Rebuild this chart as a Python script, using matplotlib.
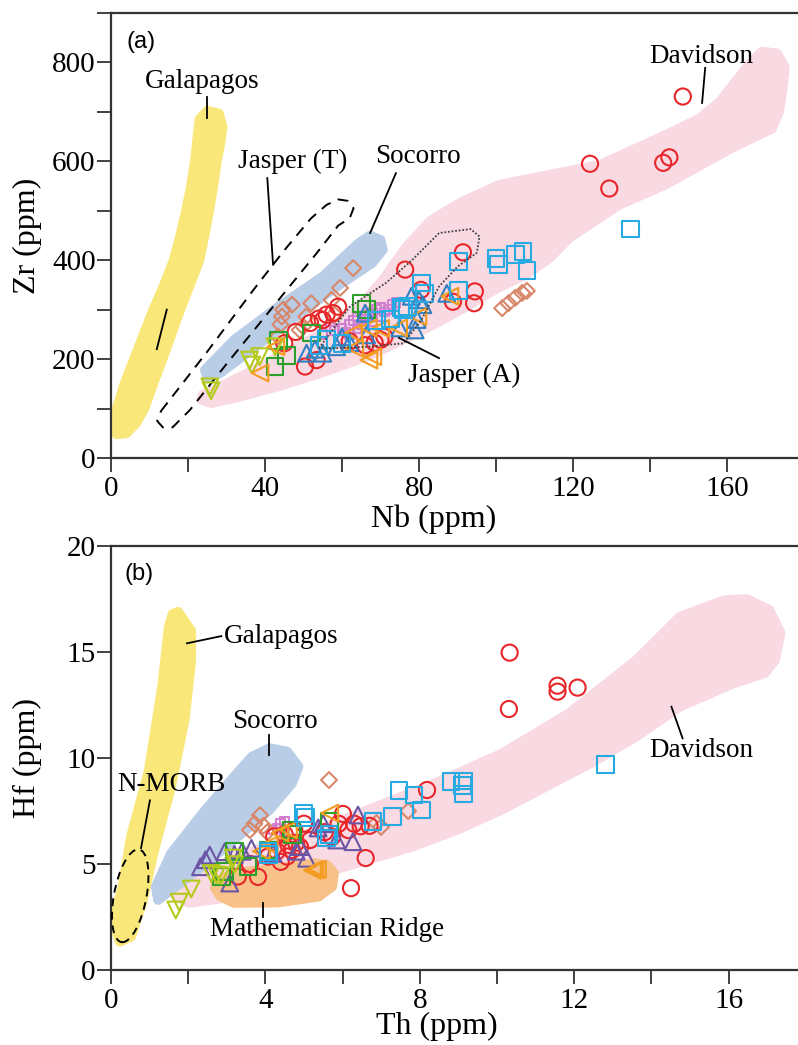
import numpy as np
import matplotlib.pyplot as plt
from matplotlib.patches import Ellipse
from matplotlib.ticker import MultipleLocator

plt.rcParams['font.family'] = ['Liberation Serif', 'DejaVu Serif']

# ---------------- panel (a): Zr vs Nb ----------------
# field outlines (Nb, Zr)
gal_a = [(0.5, 70), (1.5, 100), (3.5, 150), (6, 200), (8.5, 250), (11, 300), (13.8, 350),
         (16.3, 400), (18, 450), (19.5, 500), (20.8, 550), (21.8, 600), (22.5, 650), (23, 685),
         (25, 702), (28, 697), (29, 670), (28.5, 640), (27.5, 600), (26.6, 550), (25.5, 500),
         (24.3, 450), (23, 400), (20.5, 350), (18, 300), (15.7, 250), (13.4, 200), (11, 150),
         (8.7, 100), (6.5, 70), (4, 50), (1.5, 48), (0.3, 58)]
soc_a = [(24.4, 178), (32, 239), (43.5, 306), (55, 367), (64.4, 435), (67.3, 450), (70, 441),
         (70.6, 421), (67.8, 394), (57.4, 340), (45.8, 273), (35.3, 212), (28.4, 172), (25, 162)]
dav_a = [(23.8, 128), (26, 135), (35, 170), (45, 210), (57, 262), (65, 310), (70.6, 360),
         (76.8, 428), (83, 480), (90.6, 516), (101, 553), (114, 573), (127, 593), (144, 653),
         (152.7, 686), (158, 720), (164.7, 786), (169, 822), (173, 818), (175, 790), (174.5, 753),
         (173.5, 700), (171.6, 666), (161, 626), (144, 553), (132, 512), (119, 445), (114, 405),
         (108, 372), (100, 342), (92, 305), (85, 275), (78, 247), (67, 207), (55, 173),
         (43.5, 145), (32, 121), (26, 111), (23.5, 118)]
jasT_a = [(13, 95), (25, 215), (37, 340), (45, 420), (52, 485), (56, 512), (59, 523), (61.5, 520),
          (63, 505), (62, 485), (59, 470), (53.5, 415), (42, 305), (30, 190), (20.5, 97),
          (16, 62), (13.5, 62), (12, 75), (13, 95)]
jasA_a = [(54, 222), (62, 306), (71.4, 354), (78.3, 401), (85.2, 455), (93.4, 463), (95.7, 448),
          (95, 415), (90, 387), (85.2, 347), (80.6, 279), (76, 232), (66.8, 225), (57.4, 222), (54, 222)]

# samples (Nb, Zr)
a_circle = [(148.5, 731), (124.4, 595), (129.4, 545), (143.4, 597), (145, 608), (76.4, 381),
            (91.4, 416), (94.5, 337), (94.3, 313), (88.8, 316), (50.4, 185), (53.4, 198),
            (55, 279), (57.7, 293), (59, 306), (70, 239), (71, 245), (68.5, 233), (51.7, 273),
            (54, 282), (56, 290), (80.5, 340), (45, 232), (48, 255), (66, 228), (62, 236)]
a_square_c = [(135, 463), (100, 404), (100.7, 391), (105, 411), (107, 418), (108, 379), (90.2, 397),
              (90.2, 339), (80.7, 354), (81.5, 333), (77, 306), (75.3, 304), (72.5, 281), (76, 300),
              (56, 239), (60, 232), (69, 278), (54, 228)]
a_diamond = [(62.9, 384), (59.5, 344), (57.3, 320), (52, 313), (47, 310), (44.7, 300), (44.4, 286),
             (43.4, 246), (49.9, 266), (50.7, 286), (49, 259), (44, 270), (58, 290),
             (101.6, 303), (103.2, 313), (105, 324), (106.8, 334), (108, 338)]
a_square_g = [(65, 313), (66.4, 300), (45.6, 208), (42.6, 185), (43.5, 238), (52, 253)]
a_tri_up = [(50.8, 212), (55, 212), (58.6, 225), (60, 245), (66, 293), (66.4, 249), (79, 259),
            (79.5, 280), (81, 310), (87.2, 333), (80, 320), (78, 327), (75, 263), (62, 233), (53, 220)]
a_tri_left = [(38.7, 172), (42.8, 225), (63.3, 222), (63, 253), (66.8, 263), (68, 205), (67, 198),
              (74.7, 263), (79.7, 286), (88, 327), (70, 262)]
a_tri_down = [(25.7, 144), (26, 136), (36, 198), (36.6, 188), (38.6, 205), (42.6, 225)]
a_plus = [(60, 262), (62, 270), (63, 278), (64, 285), (65, 270), (66, 280), (67, 290), (68, 295),
          (69, 300), (70, 305), (71, 295), (72, 300), (73, 310), (74, 315), (61, 255), (62, 250),
          (64, 262), (66, 265), (68, 275), (70, 285), (58, 258), (55, 250), (57, 265)]

# labels: text, x, y ; leaders: (x0, y0, x1, y1)
a_labels = [('Galapagos', 23.6, 761), ('Jasper (T)', 47.3, 599), ('Socorro', 79.6, 609),
            ('Davidson', 153.4, 811), ('Jasper (A)', 91.6, 168)]
a_leaders = [(24.9, 731, 24.9, 688), (40.6, 566, 42.1, 391), (74, 576, 67.3, 455),
             (154.3, 789, 153.5, 718), (85.2, 202, 74.8, 243), (11.9, 220, 14.5, 300)]

# ---------------- panel (b): Hf vs Th ----------------
gal_b = [(1.74, 16.9), (2.08, 16.0), (2.08, 14.6), (1.91, 11.8), (1.56, 8.65), (1.1, 5.5),
         (0.81, 3.15), (0.52, 1.57), (0.23, 1.33), (0.06, 2.36), (0.3, 3.9), (0.52, 6.3),
         (0.98, 9.4), (1.33, 13.4), (1.5, 16.2), (1.6, 16.8)]
soc_b = [(4.11, 10.47), (4.57, 10.3), (4.86, 9.59), (4.69, 8.8), (4.11, 7.55), (3.19, 6.13),
         (2.25, 4.72), (1.45, 3.62), (1.22, 3.3), (1.16, 3.93), (1.56, 5.5), (2.38, 7.4),
         (3.19, 9.12), (3.65, 10.06)]
dav_b = [(1.68, 3.46), (3.19, 5.35), (4.92, 6.29), (6.66, 7.55), (8.39, 8.8), (10.12, 10.2),
         (11.86, 12.1), (13.6, 14.6), (14.74, 16.67), (15.9, 17.45), (16.48, 17.5), (17.06, 16.98),
         (17.35, 15.9), (17.2, 14.6), (16.94, 14.0), (16.1, 13.5), (14.74, 12.42), (13.6, 11.0),
         (12.44, 9.76), (11.27, 8.65), (10.12, 7.55), (8.96, 6.6), (7.81, 5.82), (6.66, 5.19),
         (5.49, 4.57), (4.34, 3.93), (3.19, 3.46), (2.02, 3.16)]
mat_b = [(2.72, 4.17), (3.19, 4.57), (4.34, 4.8), (5.26, 5.04), (5.61, 4.95), (5.78, 4.57),
         (5.73, 3.93), (5.38, 3.46), (4.34, 3.18), (3.19, 3.16), (2.84, 3.46), (2.69, 3.87)]
nmorb_center = (0.5, 3.5)

b_circle = [(10.33, 14.97), (10.31, 12.31), (11.57, 13.41), (11.57, 13.13), (12.09, 13.32),
            (8.19, 8.49), (6.6, 5.28), (6.22, 3.86), (6.01, 7.36), (6.47, 6.78), (6.15, 6.6),
            (6.3, 6.9), (5.73, 6.28), (5.16, 6.13), (4.69, 5.66), (4.56, 5.35), (4.4, 5.1),
            (4.07, 5.35), (3.81, 4.39), (3.29, 4.41), (4.23, 6.3), (4.8, 6.0), (4.9, 5.8),
            (4.6, 5.9), (5.54, 6.5), (4.75, 6.6), (4.5, 6.4), (5.0, 6.9), (3.6, 5.0), (4.3, 5.6),
            (5.9, 6.9), (6.7, 6.8)]
b_square_c = [(12.82, 9.7), (8.81, 8.88), (9.14, 8.92), (9.1, 8.7), (9.14, 8.3), (7.46, 8.46),
              (7.85, 8.25), (8.04, 7.55), (7.3, 7.23), (6.79, 7.0), (4.98, 7.39), (5.05, 7.2),
              (5.59, 6.22), (5.65, 6.4), (4.07, 5.58), (4.09, 5.45)]
b_diamond = [(5.65, 8.96), (3.86, 7.3), (3.72, 6.9), (3.6, 6.6), (3.95, 6.8), (6.88, 6.93),
             (7.0, 6.75), (7.7, 7.5), (4.05, 6.5)]
b_square_g = [(4.68, 6.6), (4.71, 6.4), (5.67, 7.0), (4.07, 5.66), (3.21, 5.58), (3.55, 4.87),
              (2.95, 4.65), (2.87, 4.4)]
b_tri_up = [(2.32, 4.87), (2.56, 5.42), (2.95, 5.58), (3.2, 5.45), (3.64, 5.74), (4.9, 5.82),
            (5.07, 5.27), (4.8, 5.6), (5.37, 6.7), (5.85, 6.13), (6.27, 6.05), (6.4, 7.31),
            (3.08, 4.1), (2.45, 5.2), (3.4, 5.6), (4.2, 5.5), (5.5, 6.9)]
b_tri_left = [(5.28, 4.72), (5.35, 4.75), (5.22, 4.7), (4.38, 6.46), (5.67, 7.4), (4.1, 5.9),
              (3.9, 5.6), (4.6, 6.6)]
b_tri_down = [(1.68, 2.83), (1.77, 3.2), (2.08, 3.82), (2.74, 4.48), (2.85, 4.45), (3.17, 5.28),
              (3.2, 4.97), (2.6, 4.55)]
b_plus = [(4.4, 6.9), (4.5, 7.0), (4.3, 6.7), (4.5, 6.5), (4.2, 6.6)]

b_labels = [('Galapagos', 4.40, 15.75), ('Socorro', 4.25, 11.7), ('N-MORB', 1.56, 8.73),
            ('Davidson', 15.3, 10.33), ('Mathematician Ridge', 5.61, 1.89)]
b_leaders = [(1.97, 15.41, 2.86, 15.75), (4.1, 11.08, 4.1, 10.14), (1.01, 8.0, 0.78, 5.75),
             (14.81, 10.93, 14.52, 12.42), (3.94, 3.16, 3.94, 2.51)]

# ---------------- drawing ----------------
PINK = '#f9d9e2'
BLUE = '#b9cde6'
YELLOW = '#f9e77a'
ORANGE = '#f7c189'

styles = {
    'circle': dict(marker='o', c='#e8262a', s=135),
    'square_c': dict(marker='s', c='#27a9e1', s=145),
    'diamond': dict(marker='D', c='#d8876a', s=65),
    'square_g': dict(marker='s', c='#2ca02c', s=145),
    'tri_up': dict(marker='^', c='#2f7fc1', s=145),
    'tri_left': dict(marker='<', c='#f39c1f', s=145),
    'tri_down': dict(marker='v', c='#b5c91a', s=145),
    'plus': dict(marker='s', c='#d17fd0', s=38),
}


def field(ax, pts, color, z=1):
    xs, ys = zip(*pts)
    ax.fill(xs, ys, fc=color, ec=color, lw=7, joinstyle='round', zorder=z)


def points(ax, pts, key, color=None):
    st = styles[key]
    xs, ys = zip(*pts)
    ax.scatter(xs, ys, marker=st['marker'], s=st['s'], facecolors='none',
               edgecolors=color or st['c'], linewidths=1.5, zorder=5)


def style_axes(ax, xmax, ymax, xmaj, xmin_, ymaj, ymin_):
    ax.set_xlim(0, xmax)
    ax.set_ylim(0, ymax)
    ax.xaxis.set_major_locator(MultipleLocator(xmaj))
    ax.xaxis.set_minor_locator(MultipleLocator(xmin_))
    ax.yaxis.set_major_locator(MultipleLocator(ymaj))
    ax.yaxis.set_minor_locator(MultipleLocator(ymin_))
    ax.spines['right'].set_visible(False)
    for s in ['left', 'bottom', 'top']:
        ax.spines[s].set_linewidth(1.6)
        ax.spines[s].set_color('#333333')
    ax.tick_params(which='both', direction='out', length=10, width=1.3, color='#333333',
                   labelsize=21, top=False, right=False)
    ax.tick_params(axis='y', pad=1)
    ax.tick_params(axis='x', pad=3)


fig = plt.figure(figsize=(7.98, 10.45), dpi=100)
axa = fig.add_axes([0.139, 0.5617, 0.861, 0.4259])
axb = fig.add_axes([0.139, 0.0718, 0.861, 0.4057])

# panel a
field(axa, dav_a, PINK, 1)
field(axa, soc_a, BLUE, 2)
field(axa, gal_a, YELLOW, 2)
xs, ys = zip(*jasT_a)
axa.plot(xs, ys, color='black', lw=1.4, ls=(0, (5.5, 4)), zorder=3)
xs, ys = zip(*jasA_a)
axa.plot(xs, ys, color='#444444', lw=1.3, ls=(0, (1, 1)), zorder=6)
points(axa, a_plus, 'plus')
points(axa, a_diamond, 'diamond')
points(axa, a_circle, 'circle')
points(axa, a_square_g, 'square_g')
points(axa, a_tri_down, 'tri_down')
points(axa, a_tri_up, 'tri_up')
points(axa, a_tri_left, 'tri_left')
points(axa, a_square_c, 'square_c')
for t, x, y in a_labels:
    axa.text(x, y, t, fontsize=19.5, ha='center', va='center', zorder=7)
for x0, y0, x1, y1 in a_leaders:
    axa.plot([x0, x1], [y0, y1], color='black', lw=1.3, zorder=7)
axa.text(0.022, 0.935, '(a)', transform=axa.transAxes, fontsize=17,
         family=['Liberation Sans', 'DejaVu Sans'], va='center')
style_axes(axa, 178.4, 900, 40, 20, 200, 100)
axa.set_xlabel('Nb (ppm)', fontsize=23)
axa.xaxis.set_label_coords(0.47, -0.105)
axa.set_ylabel('Zr (ppm)', fontsize=23)
axa.yaxis.set_label_coords(-0.1, 0.5)

# panel b
field(axb, dav_b, PINK, 1)
field(axb, soc_b, BLUE, 2)
field(axb, gal_b, YELLOW, 2)
field(axb, mat_b, ORANGE, 2)
axb.add_patch(Ellipse(nmorb_center, 0.85, 4.4, angle=-5.5, fill=False, ec='black',
                      lw=1.4, ls=(0, (4, 3)), zorder=3))
points(axb, b_plus, 'plus')
points(axb, b_diamond, 'diamond')
points(axb, b_circle, 'circle')
points(axb, b_tri_up, 'tri_up', color='#6b55a5')
points(axb, b_square_g, 'square_g')
points(axb, b_tri_down, 'tri_down')
points(axb, b_tri_left, 'tri_left')
points(axb, b_square_c, 'square_c')
for t, x, y in b_labels:
    axb.text(x, y, t, fontsize=19.5, ha='center', va='center', zorder=7)
for x0, y0, x1, y1 in b_leaders:
    axb.plot([x0, x1], [y0, y1], color='black', lw=1.3, zorder=7)
axb.text(0.02, 0.935, '(b)', transform=axb.transAxes, fontsize=17,
         family=['Liberation Sans', 'DejaVu Sans'], va='center')
style_axes(axb, 17.8, 20, 4, 2, 5, 5)
axb.set_xlabel('Th (ppm)', fontsize=23)
axb.xaxis.set_label_coords(0.475, -0.1)
axb.set_ylabel('Hf (ppm)', fontsize=23)
axb.yaxis.set_label_coords(-0.1, 0.5)

fig.savefig('out.png', dpi=100)
